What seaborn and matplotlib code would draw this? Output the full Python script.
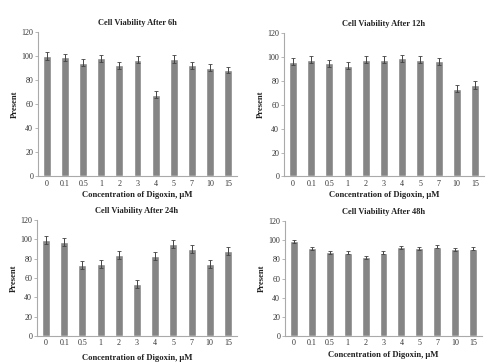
import matplotlib
matplotlib.use("Agg")
import matplotlib.pyplot as plt
import seaborn as sns
import pandas as pd
import numpy as np

concentrations = ["0", "0.1", "0.5", "1", "2", "3", "4", "5", "7", "10", "15"]
titles = ["Cell Viability After 6h", "Cell Viability After 12h",
          "Cell Viability After 24h", "Cell Viability After 48h"]
v6 = [100, 99, 94.5, 98, 92.5, 97, 68, 97.5, 92.5, 90.5, 88.5]
e6 = [3, 3, 3, 3, 3, 3, 3, 3, 3, 3, 2.5]
v12 = [96, 97.5, 94.5, 92.5, 97.5, 97.5, 99, 97.5, 96.5, 73.5, 76.5]
e12 = [3, 3, 3, 3, 3, 3, 3, 3, 3, 3, 3]
v24 = [99.5, 97.5, 73.5, 74.5, 84, 53.5, 82.5, 95.5, 90, 74.5, 88]
e24 = [4, 4, 4, 4, 4, 4, 4, 4, 4, 4, 4]
v48 = [99, 91.5, 87.5, 87, 82, 87, 92.5, 91.5, 93, 90.5, 91]
e48 = [1.5, 1.5, 1.5, 1.5, 1.5, 1.5, 1.5, 1.5, 1.5, 1.5, 1.5]

sns.set_style("white")
plt.rcParams['font.family'] = ['Liberation Serif', 'DejaVu Serif']

W, H = 489, 362
fig = plt.figure(figsize=(W / 100, H / 100), dpi=100)

# pixel boxes: left, right, top(120), bottom(0)
boxes = [(38, 237, 32, 176.5), (284, 484, 33, 176.5),
         (37, 237, 220, 336), (285, 482, 221, 336)]
xlabelpads = [2, 2, 5, 2.5]
ylabelpads = [1.5, 1.5, 1.5, 2]
values = [v6, v12, v24, v48]
errors = [e6, e12, e24, e48]

txt = "#333333"
spine = "#aaaaaa"
for (l, r, t, b), title, vals, errs, xlp, ylp in zip(boxes, titles, values, errors,
                                                      xlabelpads, ylabelpads):
    ax = fig.add_axes([l / W, 1 - b / H, (r - l) / W, (b - t) / H])
    df = pd.DataFrame({"conc": concentrations, "val": vals})
    sns.barplot(data=df, x="conc", y="val", order=concentrations, color="#858585",
                saturation=1, width=0.44, errorbar=None, ax=ax)
    ax.errorbar(np.arange(len(vals)), vals, yerr=errs, fmt="none",
                ecolor="#444444", elinewidth=0.7, capsize=1.5, capthick=0.6)
    ax.set_ylim(0, 120)
    ax.set_xlim(-0.5, len(vals) - 0.5)
    ax.set_yticks([0, 20, 40, 60, 80, 100, 120])
    for s in ["top", "right"]:
        ax.spines[s].set_visible(False)
    for s in ["left", "bottom"]:
        ax.spines[s].set_color(spine)
        ax.spines[s].set_linewidth(0.8)
    ax.tick_params(axis="y", length=2.5, width=0.6, color=spine, labelsize=5.8,
                   labelcolor=txt, pad=1, left=True)
    ax.tick_params(axis="x", length=0, labelsize=5.8, labelcolor=txt, pad=2.5)
    ax.set_title(title, fontsize=6, fontweight="bold", color="#222222", pad=5)
    ax.set_ylabel("Present", fontsize=6.2, fontweight="bold", color="#222222", labelpad=ylp)
    ax.set_xlabel("Concentration of Digoxin, \u03bcM", fontsize=6.2, fontweight="bold",
                  color="#222222", labelpad=xlp)

fig.savefig("out.png", dpi=100)
